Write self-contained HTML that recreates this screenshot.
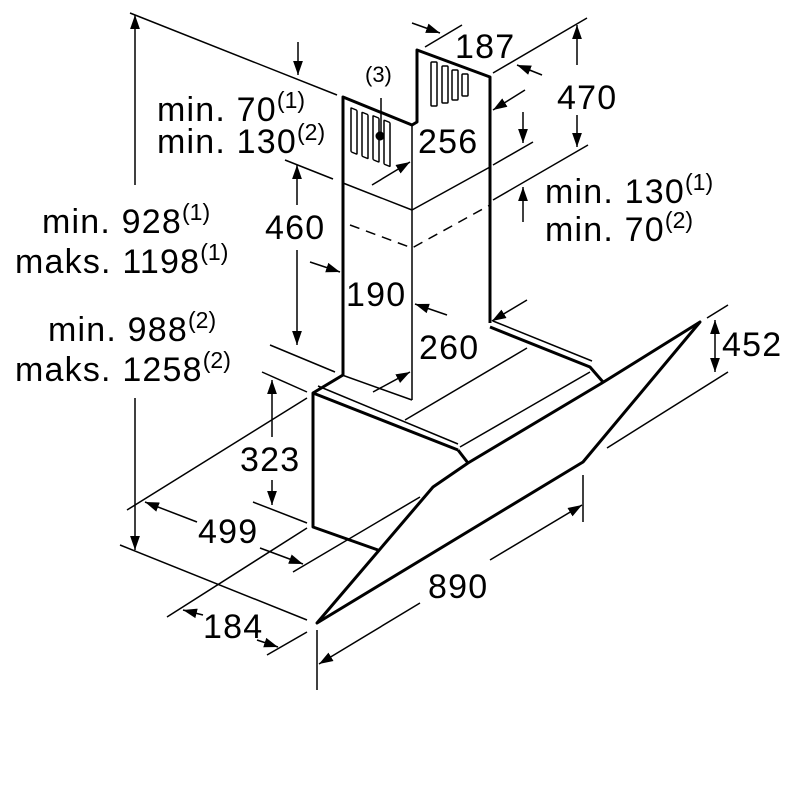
<!DOCTYPE html>
<html><head><meta charset="utf-8"><style>
html,body{margin:0;padding:0;background:#fff}
svg{display:block}
text{font-family:"Liberation Sans",sans-serif;fill:#000}
.t{font-size:34px;letter-spacing:1.2px}
.s{font-size:23px;letter-spacing:0}
</style></head><body>
<svg width="800" height="800" viewBox="0 0 800 800" xmlns="http://www.w3.org/2000/svg">
<defs>
<marker id="a" viewBox="0 0 10 10" refX="10" refY="5" markerWidth="14" markerHeight="14" markerUnits="userSpaceOnUse" orient="auto-start-reverse">
<path d="M0,1.5 L10,5 L0,8.5 z" fill="#000"/></marker>
</defs>
<g stroke="#000" stroke-width="1.5" fill="none">
<line x1="130" y1="13" x2="337" y2="95"/>
<line x1="285" y1="160" x2="333" y2="179"/>
<line x1="270" y1="345" x2="335" y2="372"/>
<line x1="262" y1="372" x2="307" y2="392"/>
<line x1="253" y1="502" x2="307" y2="523"/>
<line x1="127" y1="510" x2="307" y2="398"/>
<line x1="120" y1="545" x2="307" y2="620"/>
<line x1="167" y1="617" x2="307" y2="528"/>
<line x1="293" y1="572" x2="420" y2="497"/>
<line x1="267" y1="655" x2="307" y2="632"/>
<line x1="317" y1="630" x2="317" y2="690"/>
<line x1="583" y1="475" x2="583" y2="522"/>
<line x1="707" y1="318" x2="728" y2="305"/>
<line x1="607" y1="448" x2="728" y2="372"/>
<line x1="493" y1="73" x2="587" y2="18"/>
<line x1="493" y1="165" x2="533" y2="142"/>
<line x1="493" y1="200" x2="588" y2="145"/>
<line x1="425" y1="47" x2="462" y2="25"/>
<line x1="135" y1="185" x2="135" y2="15" marker-end="url(#a)"/>
<line x1="135" y1="398" x2="135" y2="550" marker-end="url(#a)"/>
<line x1="298" y1="42" x2="298" y2="75" marker-end="url(#a)"/>
<line x1="297" y1="205" x2="297" y2="165" marker-end="url(#a)"/>
<line x1="297" y1="250" x2="297" y2="345" marker-end="url(#a)"/>
<line x1="272" y1="437" x2="272" y2="380" marker-end="url(#a)"/>
<line x1="272" y1="480" x2="272" y2="505" marker-end="url(#a)"/>
<line x1="197" y1="522" x2="145" y2="502" marker-end="url(#a)"/>
<line x1="260" y1="548" x2="303" y2="564" marker-end="url(#a)"/>
<line x1="203" y1="615" x2="183" y2="610" marker-end="url(#a)"/>
<line x1="257" y1="640" x2="278" y2="647" marker-end="url(#a)"/>
<line x1="420" y1="603" x2="319" y2="664" marker-end="url(#a)"/>
<line x1="490" y1="560" x2="582" y2="505" marker-end="url(#a)"/>
<line x1="715" y1="320" x2="715" y2="372" marker-start="url(#a)" marker-end="url(#a)"/>
<line x1="577" y1="65" x2="577" y2="25" marker-end="url(#a)"/>
<line x1="577" y1="115" x2="577" y2="147" marker-end="url(#a)"/>
<line x1="412" y1="23" x2="440" y2="33" marker-end="url(#a)"/>
<line x1="542" y1="75" x2="517" y2="65" marker-end="url(#a)"/>
<line x1="525" y1="90" x2="493" y2="110" marker-end="url(#a)"/>
<line x1="372" y1="185" x2="410" y2="162" marker-end="url(#a)"/>
<line x1="523" y1="112" x2="523" y2="143" marker-end="url(#a)"/>
<line x1="523" y1="222" x2="523" y2="187" marker-end="url(#a)"/>
<line x1="310" y1="262" x2="340" y2="272" marker-end="url(#a)"/>
<line x1="447" y1="315" x2="415" y2="304" marker-end="url(#a)"/>
<line x1="527" y1="300" x2="492" y2="321" marker-end="url(#a)"/>
<line x1="373" y1="392" x2="410" y2="372" marker-end="url(#a)"/>
<line x1="381" y1="98" x2="381" y2="135"/>
<line x1="343" y1="183" x2="412" y2="210"/>
<line x1="412" y1="210" x2="490" y2="167"/>
<line x1="412" y1="125" x2="412" y2="400"/>
<polyline points="350,225 412,248 490,205" stroke-dasharray="10,7"/>
<line x1="318" y1="386" x2="458" y2="444"/>
<line x1="405" y1="420" x2="527" y2="348"/>
<line x1="460" y1="447" x2="590" y2="372"/>
<line x1="493" y1="321" x2="592" y2="361"/>
<line x1="342" y1="375" x2="412" y2="400"/>
<rect x="351" y="107" width="6" height="44" rx="1" transform="skewY(22) translate(0,-141)"/>
<rect x="362" y="111" width="6" height="44" rx="1" transform="skewY(22) translate(0,-145)"/>
<rect x="373" y="115" width="6" height="44" rx="1" transform="skewY(22) translate(0,-150)"/>
<rect x="384" y="119" width="6" height="44" rx="1" transform="skewY(22) translate(0,-154)"/>
<rect x="431" y="62" width="6" height="44" rx="1"/>
<rect x="442" y="66" width="6" height="37" rx="1"/>
<rect x="452" y="70" width="6" height="30" rx="1"/>
<rect x="462" y="74" width="6" height="22" rx="1"/>
</g>
<g stroke="#000" stroke-width="3" fill="none" stroke-linejoin="round">
<polyline points="343,375 343,97 412,125 417,122 417,50 490,77 490,323"/>
<polyline points="343,375 313,393 313,527 378,550"/>
<line x1="313" y1="393" x2="458" y2="450"/>
<polyline points="458,450 468,463 602,383 700,322 583,462 317,623 433,487 468,463"/>
<polyline points="490,327 590,367 603,382"/>
</g>
<circle cx="380" cy="136" r="4.5" fill="#000"/>
<text class="t" x="157" y="121">min. 70<tspan class="s" dy="-13">(1)</tspan></text>
<text class="t" x="157" y="153">min. 130<tspan class="s" dy="-13">(2)</tspan></text>
<text class="t" x="42" y="233">min. 928<tspan class="s" dy="-13">(1)</tspan></text>
<text class="t" x="15" y="273">maks. 1198<tspan class="s" dy="-13">(1)</tspan></text>
<text class="t" x="48" y="341">min. 988<tspan class="s" dy="-13">(2)</tspan></text>
<text class="t" x="15" y="381">maks. 1258<tspan class="s" dy="-13">(2)</tspan></text>
<text class="t" x="265" y="239">460</text>
<text class="t" x="240" y="471">323</text>
<text class="t" x="198" y="543">499</text>
<text class="t" x="203" y="638">184</text>
<text class="t" x="428" y="598">890</text>
<text class="t" x="722" y="356">452</text>
<text class="t" x="557" y="109">470</text>
<text class="t" x="455" y="58">187</text>
<text class="t" x="418" y="153">256</text>
<text class="t" x="346" y="306">190</text>
<text class="t" x="419" y="359">260</text>
<text x="365" y="82" style="font-size:22px">(3)</text>
<text class="t" x="545" y="203">min. 130<tspan class="s" dy="-13">(1)</tspan></text>
<text class="t" x="545" y="241">min. 70<tspan class="s" dy="-13">(2)</tspan></text>
</svg>
</body></html>
